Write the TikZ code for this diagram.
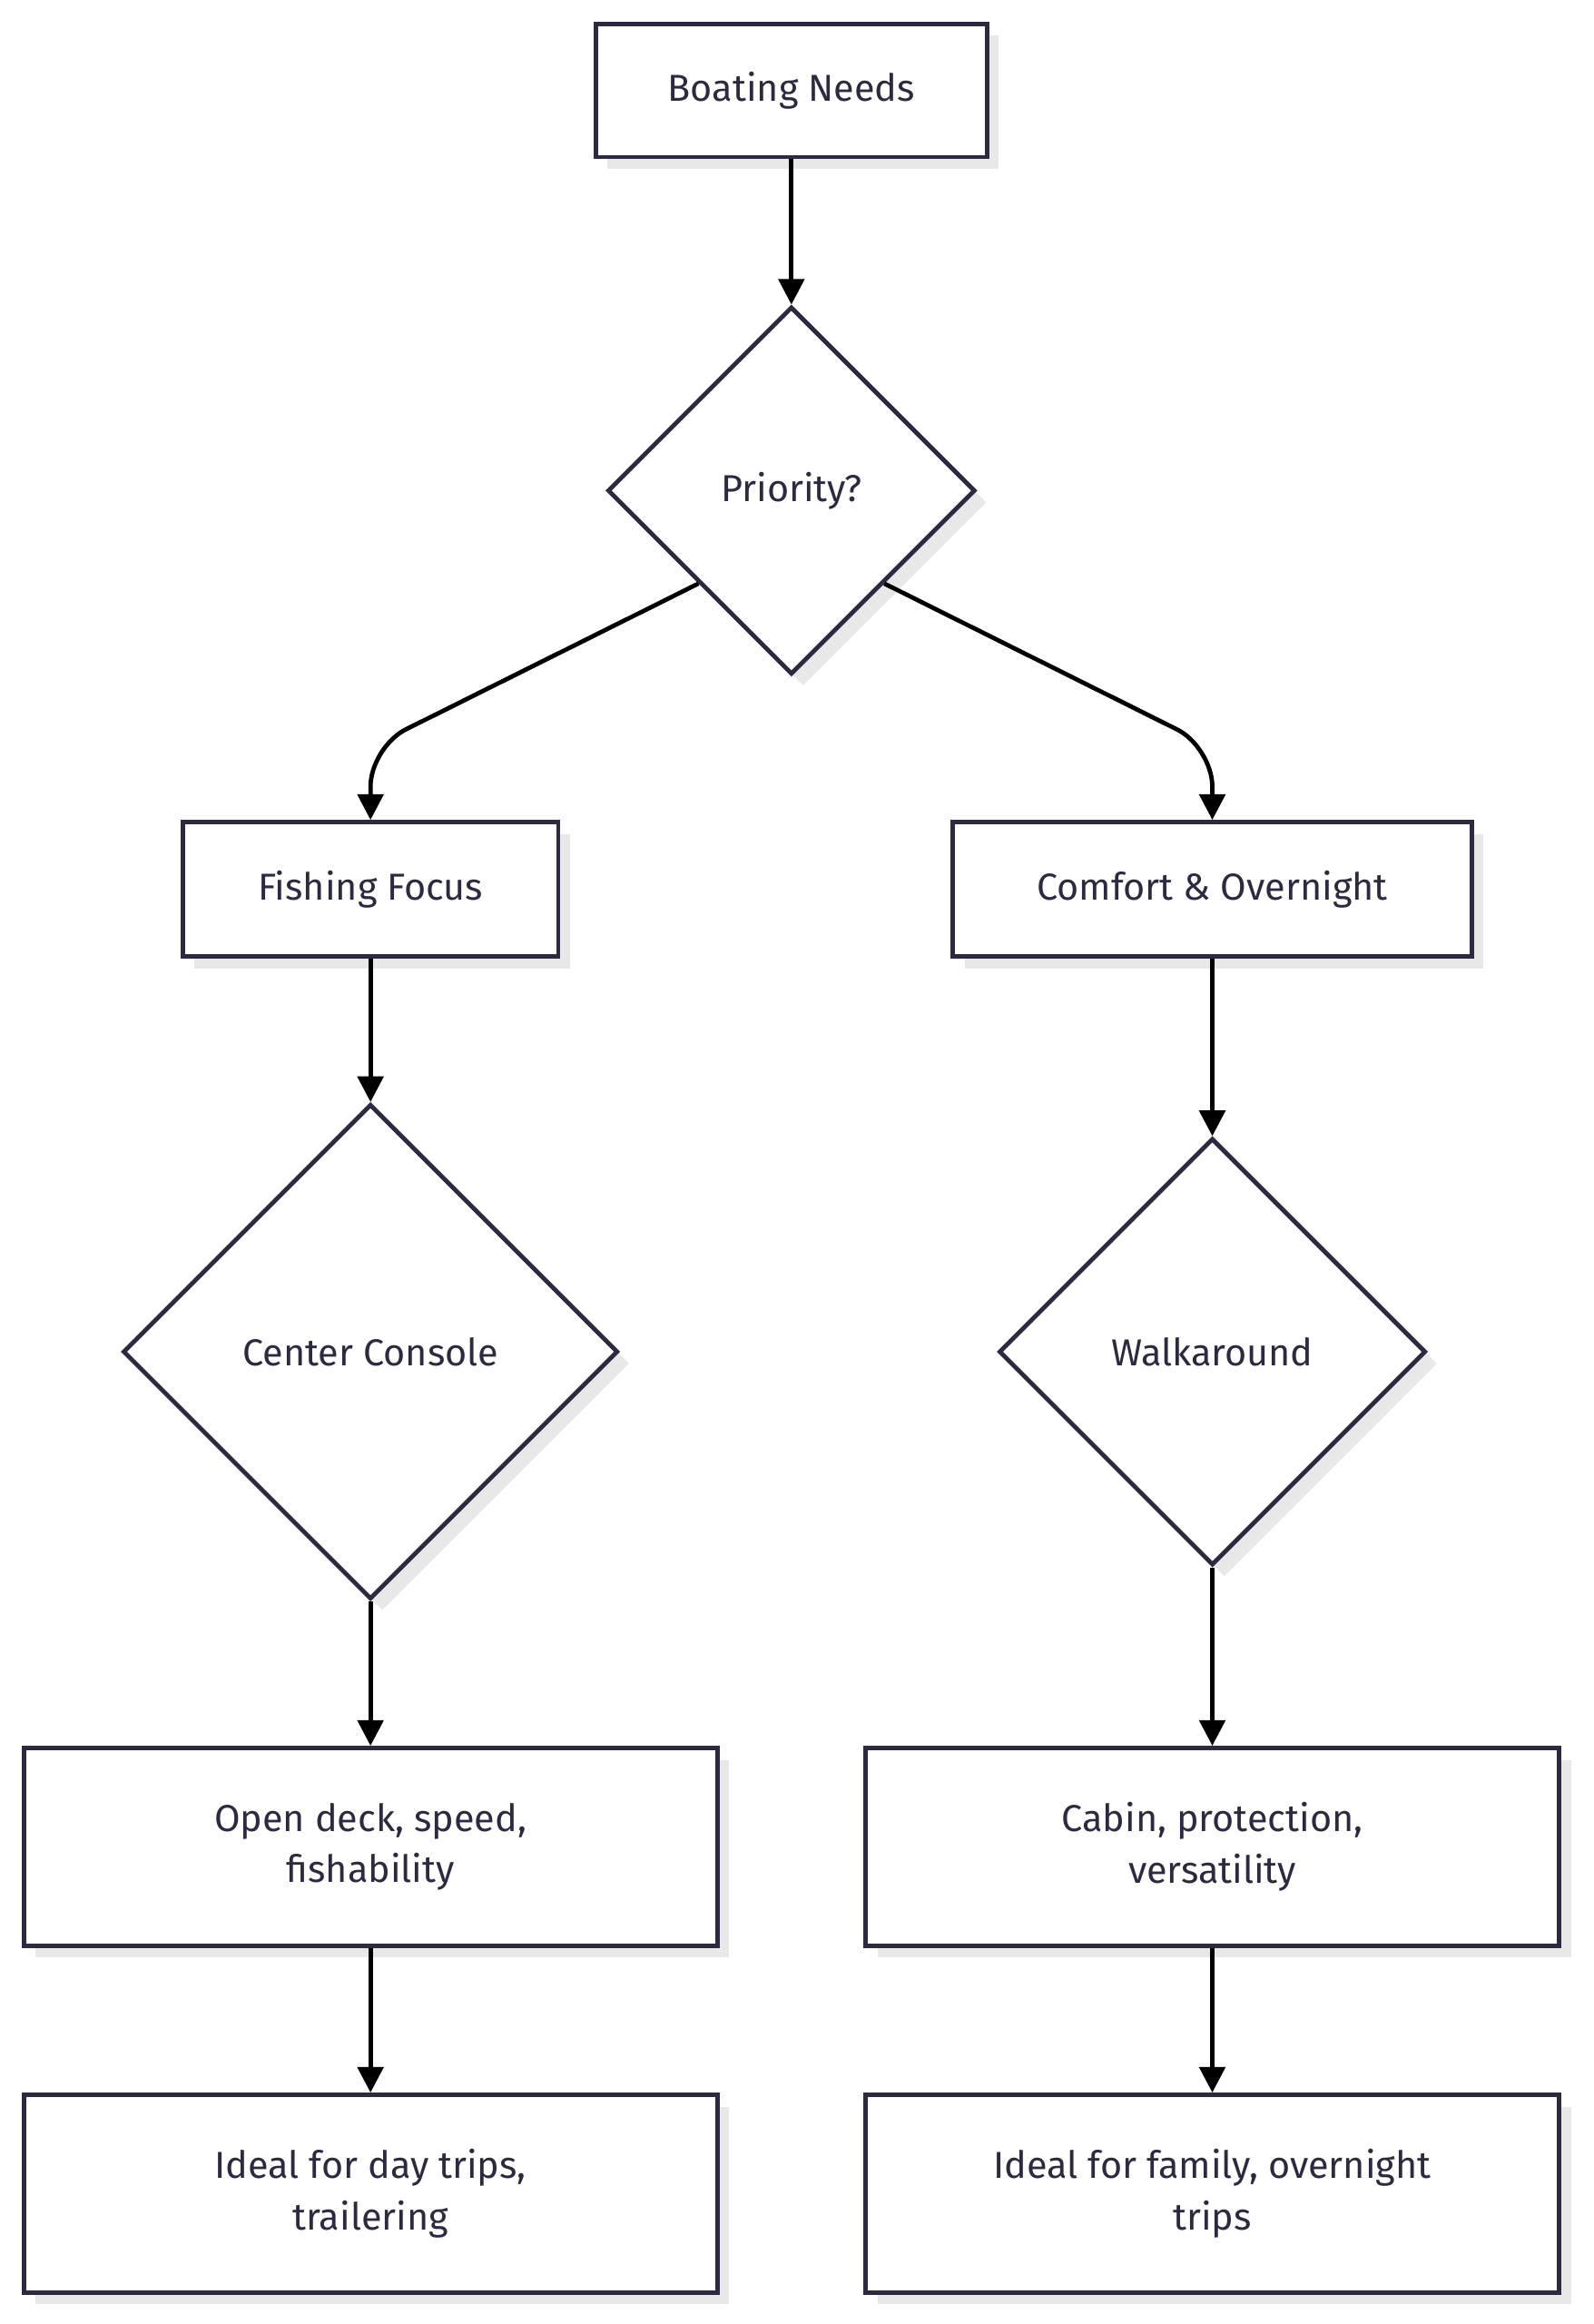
\documentclass[tikz,border=0pt]{standalone}
\usepackage{fontspec}
\setmainfont{Fira Sans}
\usetikzlibrary{shapes.geometric,shadows,arrows.meta}
\definecolor{ink}{HTML}{2B2A40}
\tikzset{
  box/.style={draw=ink,line width=2.2pt,fill=white,align=center,text=ink,
    font=\fontsize{19}{26}\selectfont,inner sep=0pt,
    drop shadow={shadow xshift=6pt,shadow yshift=-6pt,fill=black!9,opacity=1}},
  dia/.style={box,diamond},
  link/.style={line width=2.2pt,-{Triangle[length=13pt,width=13pt]},rounded corners=20pt}
}
\begin{document}
\begin{tikzpicture}[x=0.75pt,y=-0.75pt]
  \useasboundingbox (0,0) rectangle (1075,1568);

  \node[box,minimum width=198pt,minimum height=67.5pt] (needs) at (534,61) {Boating Needs};
  \node[dia,minimum width=186pt,minimum height=186pt] (prio) at (534,331) {Priority?};

  \node[box,minimum width=190pt,minimum height=68pt] (fish) at (250,600) {Fishing Focus};
  \node[box,minimum width=262.5pt,minimum height=68pt] (comf) at (818,600) {Comfort \& Overnight};

  \node[dia,minimum width=250.5pt,minimum height=250.5pt] (cc) at (250,912) {Center Console};
  \node[dia,minimum width=216pt,minimum height=216pt] (walk) at (818,912) {Walkaround};

  \node[box,minimum width=351pt,minimum height=100pt] (open) at (250,1246) {Open deck, speed,\\fishability};
  \node[box,minimum width=351pt,minimum height=100pt] (cabin) at (818,1246) {Cabin, protection,\\versatility};

  \node[box,minimum width=351pt,minimum height=100pt] (day) at (250,1480) {Ideal for day trips,\\trailering};
  \node[box,minimum width=351pt,minimum height=100pt] (fam) at (818,1480) {Ideal for family, overnight\\trips};

  \coordinate (lbend) at (250,504);
  \coordinate (rbend) at (818,504);

  \draw[link] (needs) -- (prio);
  \draw[link] (prio.south west) -- (lbend) -- (fish.north);
  \draw[link] (prio.south east) -- (rbend) -- (comf.north);
  \draw[link] (fish) -- (cc);
  \draw[link] (comf) -- (walk);
  \draw[link] (cc) -- (open);
  \draw[link] (walk) -- (cabin);
  \draw[link] (open) -- (day);
  \draw[link] (cabin) -- (fam);
\end{tikzpicture}
\end{document}
